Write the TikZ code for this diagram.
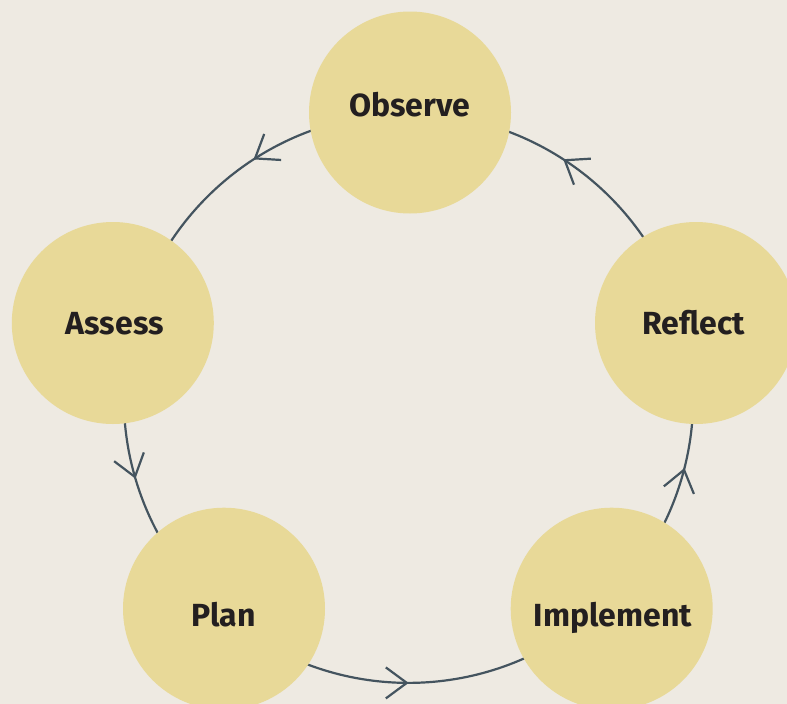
\documentclass[tikz,border=0pt]{standalone}
\usepackage{fontspec}
\setmainfont{Fira Sans}
\usetikzlibrary{arrows.meta,decorations.markings,backgrounds}
\definecolor{bgcol}{HTML}{EEEAE2}
\definecolor{disc}{HTML}{E8D998}
\definecolor{linecol}{HTML}{44545F}
\definecolor{txt}{HTML}{231F20}
\tikzset{
  stage/.style={circle, fill=disc, minimum size=202pt, inner sep=0pt},
  stagetext/.style={anchor=base, inner sep=0pt, text=txt,
    font=\fontsize{32}{38}\selectfont\bfseries},
  flowtip/.tip={Straight Barb[length=21pt,width=31pt]},
  flow/.style={draw=linecol, line width=2.2pt, postaction={decorate},
    decoration={markings, mark=at position #1 with {\arrow{flowtip}}}}
}
\newcommand{\R}{284.7}
\begin{document}
\begin{tikzpicture}[x=1pt,y=-1pt]
\useasboundingbox (0,0) rectangle (787,704);
\node[stage] (O) at (410,112.5) {};
\node[stage] (Rf) at (696,323) {};
\node[stage] (I) at (611.7,608.7) {};
\node[stage] (P) at (224,608.7) {};
\node[stage] (A) at (112.8,323) {};
\node[stagetext] (Ot) at (409.5,116.7) {Observe};
\node[stagetext] (Rt) at (693.7,334.3) {Reflect};
\node[stagetext] (It) at (612.8,626) {Implement};
\node[stagetext] (Pt) at (223.8,626) {Plan};
\node[stagetext] (At) at (114.7,334.3) {Assess};
\begin{scope}[on background layer]
\fill[bgcol] (0,0) rectangle (787,704);
\coordinate (C) at (408.5,398.2);
\coordinate (cO) at ([shift={(-89.7:\R)}]C);
\coordinate (cA) at ([shift={(-165.7:\R)}]C);
\coordinate (cP) at ([shift={(-228.8:\R)}]C);
\coordinate (cI) at ([shift={(-314.0:\R)}]C);
\coordinate (cR) at ([shift={(-374.7:\R)}]C);
\draw[flow=0.438] (cO) arc[start angle=-89.7, end angle=-165.7, radius=\R];
\draw[flow=0.487] (cA) arc[start angle=-165.7, end angle=-228.8, radius=\R];
\draw[flow=0.484] (cP) arc[start angle=-228.8, end angle=-314.0, radius=\R];
\draw[flow=0.524] (cI) arc[start angle=-314.0, end angle=-374.7, radius=\R];
\draw[flow=0.565] (cR) arc[start angle=-374.7, end angle=-449.7, radius=\R];
\end{scope}
\end{tikzpicture}
\end{document}
